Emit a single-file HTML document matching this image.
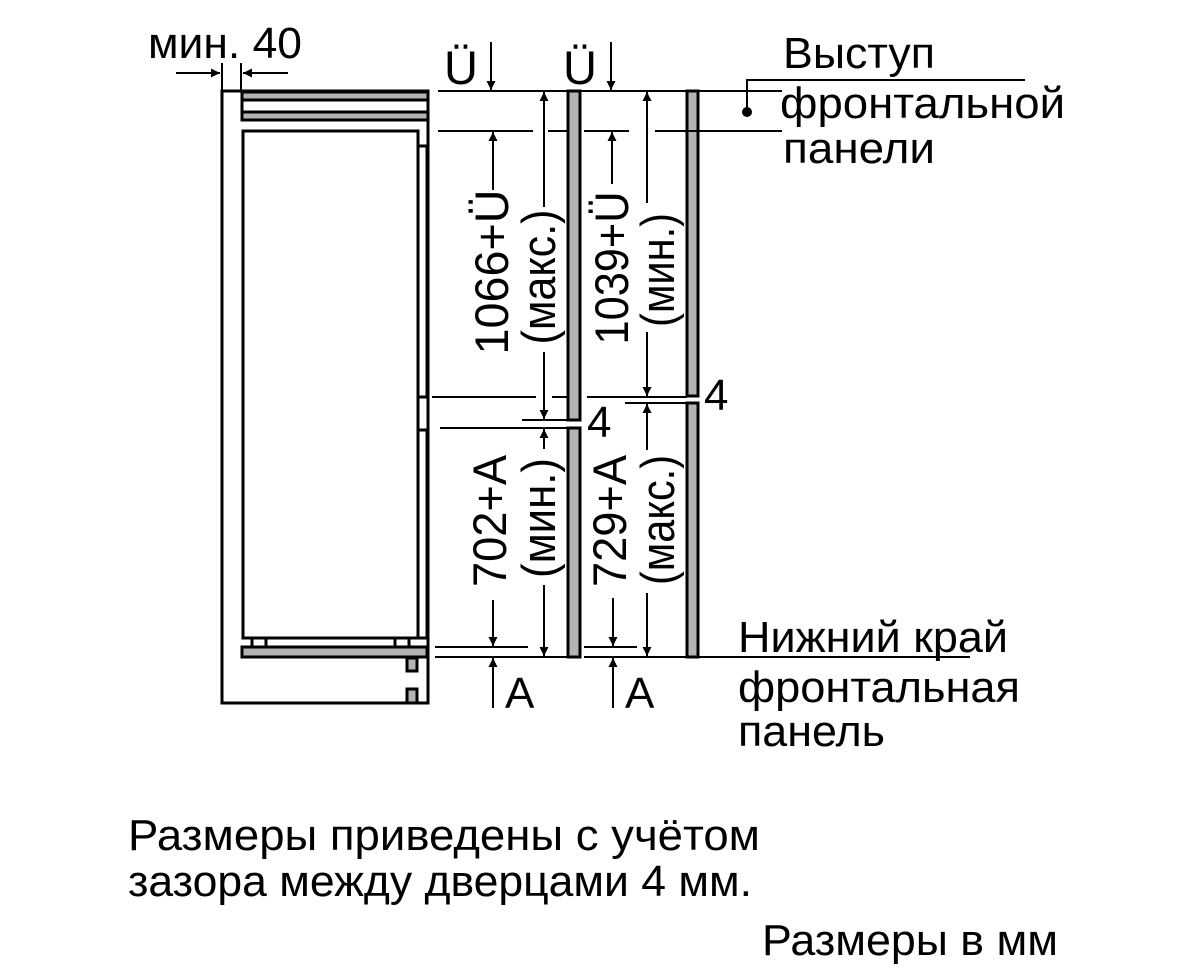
<!DOCTYPE html>
<html><head><meta charset="utf-8"><style>
html,body{margin:0;padding:0;background:#fff;}
svg{display:block;}
text{font-family:"Liberation Sans",sans-serif;fill:#000;}
</style></head><body>
<svg width="1186" height="970" viewBox="0 0 1186 970" xmlns="http://www.w3.org/2000/svg">
<defs>
<marker id="a" viewBox="0 0 10 10" refX="10" refY="5" markerWidth="14" markerHeight="9" markerUnits="userSpaceOnUse" orient="auto"><path d="M0,0 L10,5 L0,10 z" fill="#000"/></marker>
</defs>
<g stroke="#000" stroke-width="3" fill="none">
<path d="M222,91 H428 V703 H222 Z"/>
<rect x="242" y="92" width="186" height="8" fill="#b3b3b3"/>
<rect x="242" y="112" width="186" height="8" fill="#b3b3b3"/>
<path d="M242,91 V120"/>
<rect x="243" y="131" width="175" height="507"/>
<rect x="418" y="146" width="9" height="251"/>
<rect x="418" y="430" width="9" height="208"/>
<rect x="242" y="647" width="185" height="10" fill="#b3b3b3"/>
<path d="M252,638 V647 M266,638 V647 M395,638 V647 M409,638 V647"/>
<rect x="407" y="658" width="10" height="13" fill="#b3b3b3"/>
<rect x="407" y="689" width="10" height="14" fill="#b3b3b3"/>
<rect x="568" y="91" width="12" height="329" fill="#b3b3b3"/>
<rect x="568" y="428" width="12" height="229" fill="#b3b3b3"/>
<rect x="687" y="91" width="11" height="305" fill="#b3b3b3"/>
<rect x="687" y="403" width="11" height="254" fill="#b3b3b3"/>
</g>
<g stroke="#000" stroke-width="2" fill="none">
<path d="M438,91 H782"/>
<path d="M438,131 H533 M548,131 H567 M584,131 H629 M655,131 H782"/>
<path d="M432,397 H536 M552,397 H567 M587,397 H687"/>
<path d="M522,420 H568"/>
<path d="M440,428 H568"/>
<path d="M625,403 H687"/>
<path d="M435,647 H528 M584,647 H637"/>
<path d="M435,657 H568 M584,657 H970"/>
<path d="M222,63 V91 M241,63 V91"/>
<path d="M176,73 H220" marker-end="url(#a)"/>
<path d="M288,73 H243" marker-end="url(#a)"/>
<path d="M491,42 V90" marker-end="url(#a)"/>
<path d="M611,42 V90" marker-end="url(#a)"/>
<path d="M493,190 V132" marker-end="url(#a)"/>
<path d="M544,207 V92" marker-end="url(#a)"/>
<path d="M544,352 V419" marker-end="url(#a)"/>
<path d="M612,184 V132" marker-end="url(#a)"/>
<path d="M647,203 V92" marker-end="url(#a)"/>
<path d="M647,332 V396" marker-end="url(#a)"/>
<path d="M493,600 V646" marker-end="url(#a)"/>
<path d="M544,449 V429" marker-end="url(#a)"/>
<path d="M544,585 V656" marker-end="url(#a)"/>
<path d="M613,598 V646" marker-end="url(#a)"/>
<path d="M647,450 V404" marker-end="url(#a)"/>
<path d="M647,593 V656" marker-end="url(#a)"/>
<path d="M493,708 V658" marker-end="url(#a)"/>
<path d="M613,708 V658" marker-end="url(#a)"/>
<path d="M747,112 V80 H1025"/>
</g>
<circle cx="747" cy="112" r="5" fill="#000"/>

<g font-size="44">
<text x="148" y="58" textLength="154" lengthAdjust="spacingAndGlyphs">мин. 40</text>
<text x="444" y="84" font-size="47">Ü</text>
<text x="563" y="84" font-size="47">Ü</text>
<text x="783" y="68" textLength="152" lengthAdjust="spacingAndGlyphs">Выступ</text>
<text x="780" y="118" textLength="285" lengthAdjust="spacingAndGlyphs">фронтальной</text>
<text x="783" y="163" textLength="152" lengthAdjust="spacingAndGlyphs">панели</text>
<text x="587" y="437">4</text>
<text x="704" y="410">4</text>
<text x="505" y="708">A</text>
<text x="625" y="708">A</text>
<text x="738" y="652" textLength="270" lengthAdjust="spacingAndGlyphs">Нижний край</text>
<text x="738" y="702" textLength="282" lengthAdjust="spacingAndGlyphs">фронтальная</text>
<text x="738" y="746" textLength="147" lengthAdjust="spacingAndGlyphs">панель</text>
<text x="128" y="850" textLength="632" lengthAdjust="spacingAndGlyphs">Размеры приведены с учётом</text>
<text x="128" y="896" textLength="624" lengthAdjust="spacingAndGlyphs">зазора между дверцами 4 мм.</text>
<text x="762" y="955" textLength="296" lengthAdjust="spacingAndGlyphs">Размеры в мм</text>
</g>
<g font-size="47">
<text transform="translate(508,272) rotate(-90)" text-anchor="middle" textLength="165" lengthAdjust="spacingAndGlyphs">1066+Ü</text>
<text transform="translate(555,277) rotate(-90)" text-anchor="middle" textLength="135" lengthAdjust="spacingAndGlyphs">(макс.)</text>
<text transform="translate(628,268) rotate(-90)" text-anchor="middle" textLength="153" lengthAdjust="spacingAndGlyphs">1039+Ü</text>
<text transform="translate(674,270) rotate(-90)" text-anchor="middle" textLength="114" lengthAdjust="spacingAndGlyphs">(мин.)</text>
<text transform="translate(506,521) rotate(-90)" text-anchor="middle" textLength="132" lengthAdjust="spacingAndGlyphs">702+A</text>
<text transform="translate(555,518) rotate(-90)" text-anchor="middle" textLength="120" lengthAdjust="spacingAndGlyphs">(мин.)</text>
<text transform="translate(626,521) rotate(-90)" text-anchor="middle" textLength="132" lengthAdjust="spacingAndGlyphs">729+A</text>
<text transform="translate(674,520) rotate(-90)" text-anchor="middle" textLength="130" lengthAdjust="spacingAndGlyphs">(макс.)</text>
</g>
</svg>
</body></html>
